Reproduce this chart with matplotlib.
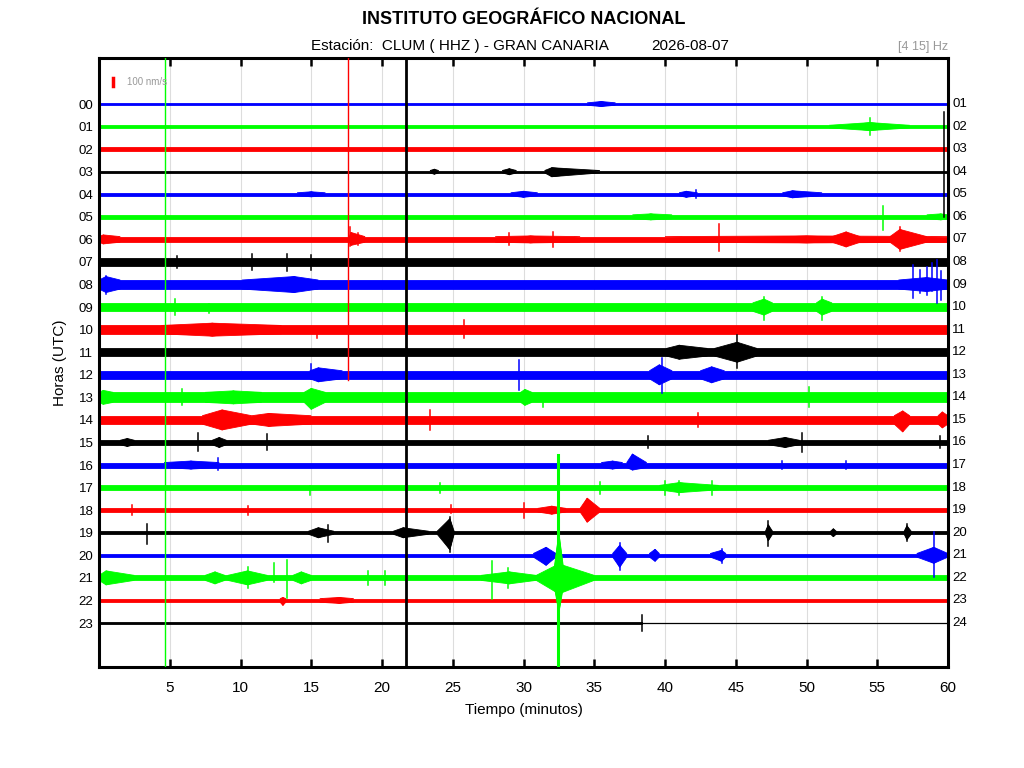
import numpy as np
import matplotlib
matplotlib.use('Agg')
import matplotlib.pyplot as plt
import matplotlib.transforms as mtransforms

plt.rcParams['font.family'] = ['Liberation Sans', 'DejaVu Sans']

horas_izq = ['%02d' % h for h in range(24)]
horas_der = ['%02d' % h for h in range(1, 25)]
colores = ['#0000ff', '#00ff00', '#ff0000', '#000000']  # ciclo azul, verde, rojo, negro

# semi-amplitud del ruido de fondo de cada hora (unidades de pixel de la traza)
ruido_base = [1.2, 1.3, 1.8, 1.2, 1.5, 2.0, 2.8, 3.8, 4.5, 4.2, 4.2, 3.8,
              4.0, 5.0, 4.2, 2.2, 2.5, 2.2, 1.8, 1.5, 1.8, 2.5, 1.8, 1.3]

# la traza de la hora 23 termina aqui (despues solo linea fina)
fin_traza_23 = 38.4

# eventos: (fila, inicio, pico, fin, amp_arriba, amp_abajo)
eventos = [
    (0, 34.5, 35.5, 36.5, 2.5, 2.5),
    (1, 51.6, 54.5, 57.3, 4, 4),
    (3, 31.5, 32.0, 35.4, 4, 5), (3, 28.5, 29.0, 29.5, 3, 3), (3, 23.4, 23.7, 24.0, 2.5, 2.5),
    (4, 29.1, 30.0, 31.0, 3, 3), (4, 41.0, 41.5, 42.3, 3, 3), (4, 48.3, 49.0, 51.1, 3.5, 3.5),
    (4, 14.0, 15.0, 16.0, 2.5, 2.5),
    (5, 37.7, 39.0, 40.5, 3, 3), (5, 58.5, 59.5, 60.0, 3, 3),
    (6, 0.0, 0.3, 1.5, 4.5, 4.5), (6, 17.7, 17.8, 18.8, 7, 6), (6, 28.0, 30.5, 34.0, 3.5, 3.5),
    (6, 40.0, 50.0, 60.0, 3.5, 3.5), (6, 51.8, 52.8, 53.8, 7.5, 7.5), (6, 55.9, 56.6, 58.5, 10, 10),
    (8, 0.0, 0.5, 1.5, 8, 8), (8, 10.1, 13.8, 15.5, 8, 8), (8, 56.5, 58.5, 60.0, 7, 7),
    (9, 46.2, 47.0, 47.6, 8, 8), (9, 50.7, 51.1, 51.8, 8, 8),
    (10, 4.4, 8.0, 12.9, 6.5, 6.5),
    (11, 40.1, 41.0, 43.0, 7, 7), (11, 43.5, 45.1, 46.5, 10, 10),
    (12, 14.9, 15.5, 17.2, 7, 7), (12, 38.9, 39.6, 40.5, 10, 10), (12, 42.5, 43.3, 44.2, 8, 8),
    (13, 7.5, 9.5, 11.5, 6.5, 6.5), (13, 14.5, 15.0, 16.0, 9, 12), (13, 0.0, 0.3, 1.0, 7, 7),
    (13, 29.8, 30.1, 30.6, 8, 8),
    (14, 7.3, 8.7, 10.8, 10, 10), (14, 10.8, 12.0, 15.0, 6.5, 6.5), (14, 56.2, 56.8, 57.3, 9, 12),
    (14, 59.3, 59.6, 60.0, 8, 8),
    (15, 1.5, 2.0, 2.5, 4, 4), (15, 8.0, 8.5, 9.0, 5, 5), (15, 47.3, 48.5, 49.5, 5, 5),
    (16, 4.6, 6.5, 8.5, 4, 4), (16, 35.5, 36.3, 37.0, 4, 4), (16, 37.3, 37.7, 38.7, 11, 5),
    (17, 39.6, 41.0, 43.8, 5, 5),
    (18, 31.0, 32.0, 33.0, 4, 4), (18, 34.0, 34.5, 35.4, 12, 12),
    (19, 14.8, 15.5, 16.6, 5, 5), (19, 20.8, 21.5, 23.3, 5, 5), (19, 23.9, 24.8, 25.1, 14, 17),
    (19, 47.1, 47.3, 47.6, 8, 8), (19, 56.9, 57.1, 57.4, 7, 7), (19, 51.7, 51.9, 52.1, 4, 4),
    (20, 30.7, 31.6, 32.3, 8, 10), (20, 36.3, 36.8, 37.3, 10, 12), (20, 38.9, 39.3, 39.6, 6, 6),
    (20, 43.2, 44.0, 44.3, 5, 6), (20, 57.8, 59.0, 60.0, 8, 8),
    (21, 0.0, 0.5, 2.5, 7, 7), (21, 7.5, 8.2, 8.9, 6, 6), (21, 9.1, 10.5, 11.9, 7, 7),
    (21, 13.7, 14.3, 15.0, 6, 6), (21, 27.0, 29.0, 30.9, 6, 6), (21, 30.9, 32.5, 35.0, 14, 16),
    (21, 32.1, 32.5, 32.9, 45, 35),
    (22, 12.8, 13.0, 13.2, 3, 5), (22, 15.6, 17.0, 18.0, 3, 3),
]

# picos: (fila, minuto, amp_arriba, amp_abajo)
picos = [
    (0, 0.05, 17, 17),
    (1, 54.5, 9, 8),
    (3, 59.75, 60, 45),
    (4, 42.2, 4, 4),
    (5, 55.4, 11, 13),
    (6, 17.77, 12, 7), (6, 18.3, 6, 6), (6, 29.0, 6, 6), (6, 32.1, 7, 8), (6, 43.8, 15, 12),
    (6, 56.6, 12, 12),
    (7, 10.8, 8, 8), (7, 13.3, 8, 9), (7, 15.0, 7, 8), (7, 5.5, 6, 6),
    (8, 0.5, 9, 9), (8, 57.5, 20, 13), (8, 58.0, 15, 8), (8, 58.5, 18, 10), (8, 58.9, 22, 6),
    (8, 59.2, 25, 18), (8, 59.5, 14, 15),
    (9, 5.35, 8, 8), (9, 7.8, 3, 6), (9, 47.0, 10, 13), (9, 51.1, 10, 13),
    (10, 15.4, 3, 8), (10, 25.8, 10, 8),
    (11, 45.1, 17, 16),
    (12, 15.0, 11, 4), (12, 29.7, 15, 15), (12, 39.8, 17, 18),
    (13, 5.9, 8, 8), (13, 31.4, 3, 10), (13, 50.2, 10, 10),
    (14, 23.4, 10, 10), (14, 42.3, 7, 7),
    (15, 7.0, 9, 9), (15, 11.9, 8, 8), (15, 49.7, 9, 10), (15, 59.4, 6, 6), (15, 38.8, 6, 6),
    (16, 8.4, 7, 5), (16, 48.3, 4, 4), (16, 52.8, 4, 4),
    (17, 14.9, 2, 7), (17, 24.1, 5, 5), (17, 35.4, 6, 6), (17, 40.0, 7, 7), (17, 41.0, 7, 7),
    (17, 43.3, 7, 7),
    (18, 2.3, 5, 5), (18, 10.5, 4, 5), (18, 24.9, 5, 3), (18, 30.0, 7, 8),
    (19, 3.4, 9, 11), (19, 16.2, 8, 9), (19, 24.8, 16, 19), (19, 47.3, 12, 13), (19, 57.1, 9, 8),
    (20, 36.8, 12, 15), (20, 44.0, 6, 8), (20, 59.0, 23, 22),
    (21, 10.5, 11, 10), (21, 12.4, 15, 4), (21, 13.3, 18, 20), (21, 19.0, 7, 7), (21, 20.2, 7, 7),
    (21, 27.8, 17, 21), (21, 28.9, 10, 10),
    (23, 38.4, 8, 8),
]

# lineas verticales que cruzan el registro: (minuto, fila_desde, fila_hasta, color, grosor)
cruces = [
    (4.64, -2.1, 25.0, '#00ff00', 1.0),
    (17.57, -2.1, 12.23, '#ff0000', 1.0),
    (21.67, -2.1, 25.0, '#000000', 2.0),
    (32.44, 15.55, 25.0, '#00ff00', 2.2),
]

escala = 1 / 22.57  # pixel de traza -> separacion entre horas

######## Figura

fig = plt.figure(figsize=(10.24, 7.68), dpi=100)
ax = fig.add_axes([99 / 1024, 1 - 667 / 768, 849 / 1024, 609 / 768])

for i in range(24):
    c = colores[i % 4]
    b = ruido_base[i] * escala
    fin = fin_traza_23 if i == 23 else 60
    ax.fill_between([0, fin], i - b, i + b, color=c, lw=0.6, edgecolor=c)
    if i == 23:
        ax.plot([fin_traza_23, 60], [i, i], color=c, lw=0.9)

for fila, ini, pico, fin, arr, aba in eventos:
    c = colores[fila % 4]
    b = ruido_base[fila] * escala
    ax.fill([ini, pico, fin, pico], [fila - b, fila - arr * escala, fila + b, fila + aba * escala],
            color=c, lw=0.6)
    ax.fill([ini, pico, fin, pico], [fila + b, fila + aba * escala, fila - b, fila - arr * escala],
            color=c, lw=0.6)

for fila, t, arr, aba in picos:
    c = colores[fila % 4]
    ax.plot([t, t], [fila - arr * escala, fila + aba * escala], color=c, lw=1.1)

for t, y0, y1, c, w in cruces:
    ax.plot([t, t], [y0, y1], color=c, lw=w, zorder=3)

# barra de escala
ax.plot([1.0, 1.0], [-1.17, -0.8], color='#ff0000', lw=2.5)
ax.text(2.0, -0.98, '100 nm/s', color='#999999', fontsize=7, va='center')

ax.set_xlim(0, 60)
ax.set_ylim(24.95, -2.04)
ax.set_xticks(range(5, 61, 5))
ax.xaxis.grid(True, color='#dddddd', lw=0.8)
ax.set_axisbelow(True)
ax.tick_params(axis='x', direction='in', top=True, length=6, width=1.8, labelsize=11, pad=10)
ax.set_yticks(range(24))
ax.set_yticklabels(horas_izq)
ax.tick_params(axis='y', length=0, labelsize=9.5, pad=4)
trans = mtransforms.blended_transform_factory(ax.transAxes, ax.transData)
for i, lab in enumerate(horas_der):
    ax.text(1.005, i, lab, transform=trans, fontsize=9.5, va='center', ha='left')
for s in ax.spines.values():
    s.set_linewidth(2.2)

ax.set_xlabel('Tiempo (minutos)', fontsize=11, labelpad=6)
ax.set_ylabel('Horas (UTC)', fontsize=11, labelpad=8)

fig.text(524 / 1024, 1 - 19 / 768, 'INSTITUTO GEOGRÁFICO NACIONAL', fontsize=13, fontweight='bold',
         ha='center', va='center')
fig.text(460 / 1024, 1 - 46 / 768, 'Estación:  CLUM ( HHZ ) - GRAN CANARIA', fontsize=11,
         ha='center', va='center')
fig.text(690 / 1024, 1 - 46 / 768, '2026-08-07', fontsize=11, ha='center', va='center')
fig.text(948 / 1024, 1 - 47 / 768, '[4 15] Hz', fontsize=9, color='#999999', ha='right', va='center')

fig.savefig('out.png', dpi=100)
